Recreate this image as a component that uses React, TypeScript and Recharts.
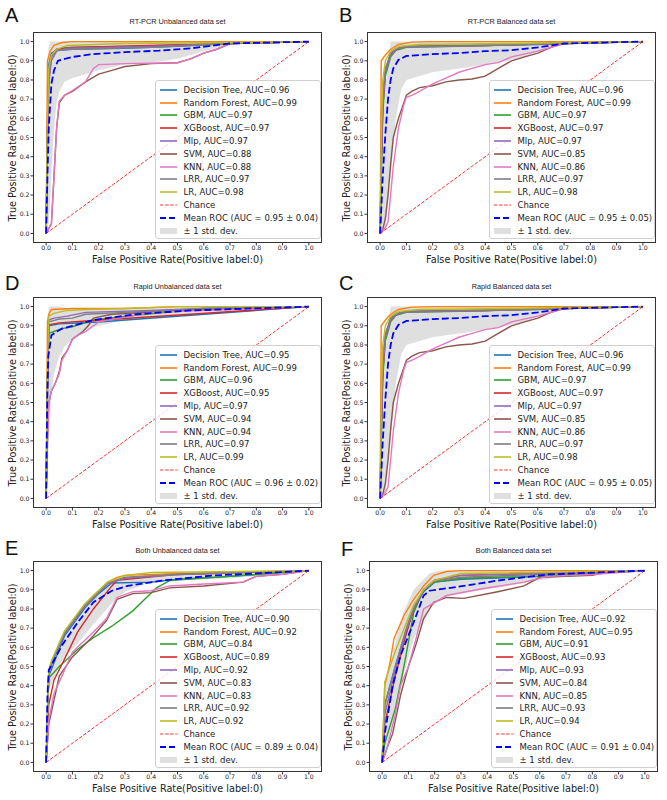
import React from "react";
import { ComposedChart, Line, Area, XAxis, YAxis } from "recharts";

type Pt = [number, number];
type Band = [number, number, number];

const TICKS = [0, 0.1, 0.2, 0.3, 0.4, 0.5, 0.6, 0.7, 0.8, 0.9, 1.0];
const MODELS = ["Decision Tree", "Random Forest", "GBM", "XGBoost", "Mlp", "SVM", "KNN", "LRR", "LR"];
const COLORS = ["#1f77b4", "#ff7f0e", "#2ca02c", "#d62728", "#9467bd", "#8c564b", "#e377c2", "#7f7f7f", "#bcbd22"];
const CHANCE: Pt[] = [[0, 0], [1, 1]];

// A: RT-PCR Unbalanced
const aAuc = [0.96, 0.99, 0.97, 0.97, 0.97, 0.88, 0.88, 0.97, 0.98];
const aDT: Pt[] = [[0, 0], [0.005, 0.6], [0.01, 0.88], [0.02, 0.94], [0.04, 0.955], [0.1, 0.96], [0.3, 0.965], [0.5, 0.975], [0.7, 0.99], [1, 1]];
const aRF: Pt[] = [[0, 0], [0.005, 0.9], [0.015, 0.95], [0.03, 0.98], [0.06, 0.995], [0.1, 1], [1, 1]];
const aGBM: Pt[] = [[0, 0], [0.005, 0.5], [0.01, 0.8], [0.02, 0.92], [0.04, 0.96], [0.08, 0.97], [0.3, 0.975], [0.6, 0.985], [0.7, 0.99], [1, 1]];
const aXGB: Pt[] = [[0, 0], [0.005, 0.55], [0.01, 0.82], [0.02, 0.93], [0.04, 0.96], [0.1, 0.97], [0.4, 0.98], [0.7, 0.99], [1, 1]];
const aMlp: Pt[] = [[0, 0], [0.005, 0.45], [0.01, 0.78], [0.02, 0.9], [0.04, 0.95], [0.08, 0.965], [0.4, 0.975], [0.7, 0.99], [1, 1]];
const aSVM: Pt[] = [[0, 0], [0.02, 0.05], [0.03, 0.3], [0.04, 0.55], [0.05, 0.68], [0.07, 0.72], [0.1, 0.74], [0.15, 0.79], [0.2, 0.83], [0.25, 0.85], [0.3, 0.87], [0.4, 0.885], [0.5, 0.89], [0.55, 0.91], [0.6, 0.94], [0.65, 0.96], [0.7, 0.99], [1, 1]];
const aKNN: Pt[] = [[0, 0], [0.02, 0.05], [0.03, 0.3], [0.04, 0.55], [0.05, 0.69], [0.07, 0.72], [0.1, 0.745], [0.15, 0.79], [0.18, 0.86], [0.2, 0.88], [0.3, 0.885], [0.5, 0.89], [0.55, 0.91], [0.6, 0.94], [0.65, 0.96], [0.7, 0.99], [1, 1]];
const aLRR: Pt[] = [[0, 0], [0.005, 0.5], [0.01, 0.82], [0.02, 0.92], [0.04, 0.955], [0.1, 0.96], [0.4, 0.97], [0.7, 0.99], [1, 1]];
const aLR: Pt[] = [[0, 0], [0.005, 0.6], [0.01, 0.86], [0.02, 0.93], [0.04, 0.96], [0.08, 0.98], [0.3, 0.99], [0.7, 0.995], [1, 1]];
const aMean: Pt[] = [[0, 0], [0.005, 0.3], [0.01, 0.55], [0.02, 0.78], [0.03, 0.85], [0.045, 0.9], [0.1, 0.92], [0.18, 0.935], [0.3, 0.945], [0.43, 0.953], [0.55, 0.965], [0.64, 0.98], [0.7, 0.99], [1, 1]];
const aBand: Band[] = [[0, 0, 0], [0.005, 0.02, 0.9], [0.01, 0.05, 0.97], [0.015, 0.15, 1], [0.02, 0.3, 1], [0.03, 0.55, 1], [0.04, 0.68, 1], [0.05, 0.74, 1], [0.07, 0.79, 1], [0.1, 0.81, 1], [0.15, 0.83, 1], [0.2, 0.85, 1], [0.3, 0.88, 1], [0.4, 0.89, 1], [0.5, 0.91, 1], [0.6, 0.95, 1], [0.7, 0.985, 1], [1, 1, 1]];

// B / C: RT-PCR Balanced, Rapid Balanced
const bAuc = [0.96, 0.99, 0.97, 0.97, 0.97, 0.85, 0.86, 0.97, 0.98];
const bDT: Pt[] = [[0, 0], [0.005, 0.4], [0.01, 0.7], [0.02, 0.85], [0.04, 0.93], [0.06, 0.96], [0.1, 0.975], [0.3, 0.98], [0.6, 0.985], [0.7, 0.99], [1, 1]];
const bRF: Pt[] = [[0, 0], [0.004, 0.9], [0.02, 0.93], [0.04, 0.96], [0.07, 0.985], [0.12, 0.997], [0.2, 1], [1, 1]];
const bGBM: Pt[] = [[0, 0], [0.005, 0.35], [0.01, 0.62], [0.02, 0.82], [0.04, 0.92], [0.06, 0.955], [0.1, 0.97], [0.3, 0.975], [0.7, 0.99], [1, 1]];
const bXGB: Pt[] = [[0, 0], [0.005, 0.4], [0.01, 0.66], [0.02, 0.85], [0.04, 0.935], [0.07, 0.965], [0.1, 0.975], [0.4, 0.98], [0.7, 0.99], [1, 1]];
const bMlp: Pt[] = [[0, 0], [0.005, 0.38], [0.01, 0.65], [0.02, 0.84], [0.04, 0.93], [0.07, 0.965], [0.1, 0.972], [0.4, 0.98], [0.7, 0.99], [1, 1]];
const bSVM: Pt[] = [[0, 0], [0.01, 0.02], [0.02, 0.08], [0.03, 0.2], [0.04, 0.36], [0.05, 0.5], [0.07, 0.6], [0.09, 0.68], [0.1, 0.72], [0.12, 0.74], [0.15, 0.76], [0.2, 0.77], [0.25, 0.79], [0.3, 0.8], [0.35, 0.805], [0.4, 0.82], [0.45, 0.86], [0.5, 0.9], [0.55, 0.92], [0.6, 0.94], [0.65, 0.97], [0.7, 0.99], [1, 1]];
const bKNN: Pt[] = [[0, 0], [0.02, 0.03], [0.03, 0.06], [0.04, 0.2], [0.05, 0.35], [0.07, 0.55], [0.09, 0.67], [0.1, 0.71], [0.12, 0.72], [0.15, 0.74], [0.2, 0.78], [0.25, 0.81], [0.3, 0.84], [0.35, 0.86], [0.4, 0.88], [0.45, 0.89], [0.5, 0.92], [0.6, 0.95], [0.7, 0.99], [1, 1]];
const bLRR: Pt[] = [[0, 0], [0.005, 0.45], [0.01, 0.72], [0.02, 0.86], [0.04, 0.94], [0.06, 0.96], [0.1, 0.975], [0.4, 0.98], [0.7, 0.99], [1, 1]];
const bLR: Pt[] = [[0, 0], [0.005, 0.55], [0.01, 0.8], [0.02, 0.9], [0.04, 0.95], [0.07, 0.975], [0.15, 0.985], [0.5, 0.99], [0.7, 0.995], [1, 1]];
const bMean: Pt[] = [[0, 0], [0.005, 0.15], [0.01, 0.3], [0.02, 0.52], [0.03, 0.7], [0.04, 0.8], [0.05, 0.86], [0.07, 0.905], [0.1, 0.925], [0.2, 0.935], [0.3, 0.94], [0.4, 0.95], [0.5, 0.955], [0.6, 0.97], [0.7, 0.99], [1, 1]];
const bBand: Band[] = [[0, 0, 0], [0.01, 0, 0.55], [0.02, 0.03, 0.75], [0.03, 0.15, 0.9], [0.04, 0.3, 1], [0.05, 0.45, 1], [0.06, 0.6, 1], [0.08, 0.75, 1], [0.1, 0.8, 1], [0.15, 0.82, 1], [0.2, 0.84, 1], [0.3, 0.86, 1], [0.45, 0.89, 1], [0.55, 0.92, 1], [0.6, 0.95, 1], [0.7, 0.99, 1], [1, 1, 1]];

// D: Rapid Unbalanced
const dAuc = [0.95, 0.99, 0.96, 0.95, 0.97, 0.94, 0.94, 0.97, 0.99];
const dDT: Pt[] = [[0, 0], [0.005, 0.6], [0.01, 0.9], [0.05, 0.91], [0.2, 0.92], [1, 1]];
const dRF: Pt[] = [[0, 0], [0.005, 0.92], [0.01, 0.96], [0.02, 0.985], [0.1, 0.99], [0.3, 0.99], [0.5, 1], [1, 1]];
const dGBM: Pt[] = [[0, 0], [0.005, 0.6], [0.01, 0.86], [0.03, 0.87], [0.06, 0.885], [0.1, 0.895], [0.18, 0.93], [0.34, 0.955], [0.6, 0.99], [1, 1]];
const dXGB: Pt[] = [[0, 0], [0.005, 0.6], [0.01, 0.905], [0.05, 0.915], [0.15, 0.925], [1, 1]];
const dMlp: Pt[] = [[0, 0], [0.005, 0.6], [0.01, 0.93], [0.03, 0.94], [0.08, 0.95], [0.15, 0.97], [0.4, 0.98], [0.6, 0.99], [1, 1]];
const dSVM: Pt[] = [[0, 0], [0.005, 0.3], [0.01, 0.5], [0.02, 0.56], [0.035, 0.6], [0.05, 0.66], [0.06, 0.73], [0.08, 0.77], [0.1, 0.83], [0.12, 0.85], [0.14, 0.87], [0.16, 0.9], [0.18, 0.94], [0.25, 0.96], [0.5, 0.98], [1, 1]];
const dKNN: Pt[] = [[0, 0], [0.005, 0.3], [0.01, 0.5], [0.02, 0.56], [0.035, 0.6], [0.05, 0.65], [0.06, 0.72], [0.08, 0.77], [0.1, 0.83], [0.12, 0.85], [0.15, 0.87], [0.18, 0.9], [0.2, 0.92], [0.4, 0.97], [1, 1]];
const dLRR: Pt[] = [[0, 0], [0.005, 0.6], [0.01, 0.92], [0.05, 0.935], [0.1, 0.94], [0.15, 0.96], [0.3, 0.97], [0.6, 0.99], [1, 1]];
const dLR: Pt[] = [[0, 0], [0.005, 0.7], [0.01, 0.95], [0.03, 0.965], [0.08, 0.98], [0.15, 0.985], [0.3, 0.99], [0.5, 1], [1, 1]];
const dMean: Pt[] = [[0, 0], [0.004, 0.5], [0.008, 0.74], [0.02, 0.85], [0.04, 0.87], [0.06, 0.885], [0.1, 0.9], [0.18, 0.93], [0.34, 0.96], [0.55, 0.98], [1, 1]];
const dBand: Band[] = [[0, 0, 0], [0.005, 0.1, 0.9], [0.01, 0.3, 1], [0.02, 0.55, 1], [0.03, 0.65, 1], [0.05, 0.74, 1], [0.07, 0.79, 0.995], [0.1, 0.83, 0.99], [0.15, 0.88, 0.99], [0.2, 0.9, 0.99], [0.3, 0.93, 0.99], [0.5, 0.95, 0.995], [0.7, 0.97, 1], [1, 1, 1]];

// E: Both Unbalanced
const eAuc = [0.9, 0.92, 0.84, 0.89, 0.92, 0.83, 0.83, 0.92, 0.92];
const eDT: Pt[] = [[0, 0], [0.01, 0.45], [0.03, 0.52], [0.07, 0.66], [0.15, 0.81], [0.2, 0.88], [0.25, 0.935], [0.4, 0.94], [0.5, 0.955], [0.7, 0.97], [1, 1]];
const eRF: Pt[] = [[0, 0], [0.01, 0.47], [0.02, 0.52], [0.07, 0.68], [0.146, 0.82], [0.184, 0.87], [0.234, 0.94], [0.27, 0.965], [0.3, 0.975], [0.5, 0.985], [1, 1]];
const eGBM: Pt[] = [[0, 0], [0.01, 0.44], [0.05, 0.5], [0.12, 0.59], [0.18, 0.65], [0.25, 0.71], [0.33, 0.79], [0.42, 0.91], [0.47, 0.948], [0.7, 0.97], [1, 1]];
const eXGB: Pt[] = [[0, 0], [0.01, 0.3], [0.03, 0.43], [0.058, 0.505], [0.12, 0.68], [0.18, 0.8], [0.25, 0.92], [0.27, 0.95], [0.5, 0.98], [1, 1]];
const eMlp: Pt[] = [[0, 0], [0.01, 0.45], [0.02, 0.51], [0.07, 0.67], [0.146, 0.81], [0.184, 0.865], [0.234, 0.93], [0.3, 0.96], [0.5, 0.98], [1, 1]];
const eSVM: Pt[] = [[0, 0], [0.01, 0.2], [0.05, 0.45], [0.1, 0.55], [0.18, 0.66], [0.23, 0.74], [0.27, 0.85], [0.33, 0.88], [0.4, 0.885], [0.47, 0.91], [0.6, 0.92], [0.75, 0.94], [0.8, 0.97], [0.9, 0.98], [1, 1]];
const eKNN: Pt[] = [[0, 0], [0.01, 0.22], [0.03, 0.36], [0.06, 0.45], [0.1, 0.575], [0.18, 0.68], [0.23, 0.75], [0.27, 0.86], [0.33, 0.89], [0.4, 0.895], [0.47, 0.92], [0.6, 0.93], [0.75, 0.94], [0.8, 0.97], [0.9, 0.98], [1, 1]];
const eLRR: Pt[] = [[0, 0], [0.01, 0.47], [0.02, 0.52], [0.07, 0.675], [0.146, 0.815], [0.184, 0.865], [0.234, 0.935], [0.3, 0.965], [0.5, 0.98], [1, 1]];
const eLR: Pt[] = [[0, 0], [0.01, 0.48], [0.02, 0.53], [0.07, 0.685], [0.146, 0.825], [0.184, 0.875], [0.234, 0.94], [0.3, 0.975], [0.4, 0.99], [1, 1]];
const eMean: Pt[] = [[0, 0], [0.005, 0.35], [0.01, 0.48], [0.06, 0.61], [0.12, 0.73], [0.18, 0.835], [0.25, 0.895], [0.31, 0.92], [0.44, 0.948], [0.63, 0.974], [0.8, 0.985], [1, 1]];
const eBand: Band[] = [[0, 0, 0], [0.01, 0.38, 0.5], [0.06, 0.53, 0.66], [0.12, 0.62, 0.78], [0.18, 0.72, 0.88], [0.25, 0.83, 0.94], [0.3, 0.89, 0.965], [0.38, 0.93, 0.975], [0.5, 0.95, 0.98], [0.7, 0.96, 0.99], [0.9, 0.98, 0.995], [1, 1, 1]];

// F: Both Balanced
const fAuc = [0.92, 0.95, 0.91, 0.93, 0.93, 0.84, 0.85, 0.93, 0.94];
const fDT: Pt[] = [[0, 0], [0.01, 0.3], [0.05, 0.5], [0.09, 0.68], [0.12, 0.8], [0.158, 0.89], [0.2, 0.94], [0.3, 0.955], [0.6, 0.97], [1, 1]];
const fRF: Pt[] = [[0, 0], [0.01, 0.4], [0.03, 0.52], [0.045, 0.645], [0.083, 0.766], [0.12, 0.85], [0.158, 0.92], [0.196, 0.975], [0.245, 0.995], [0.3, 1], [1, 1]];
const fGBM: Pt[] = [[0, 0], [0.01, 0.1], [0.05, 0.28], [0.083, 0.5], [0.12, 0.78], [0.158, 0.9], [0.2, 0.94], [0.3, 0.96], [0.6, 0.97], [1, 1]];
const fXGB: Pt[] = [[0, 0], [0.01, 0.2], [0.05, 0.45], [0.09, 0.66], [0.12, 0.8], [0.158, 0.9], [0.2, 0.95], [0.3, 0.975], [1, 1]];
const fMlp: Pt[] = [[0, 0], [0.01, 0.25], [0.05, 0.48], [0.09, 0.68], [0.12, 0.8], [0.158, 0.9], [0.2, 0.95], [0.3, 0.975], [1, 1]];
const fSVM: Pt[] = [[0, 0], [0.02, 0.08], [0.04, 0.15], [0.07, 0.35], [0.1, 0.5], [0.13, 0.62], [0.158, 0.75], [0.196, 0.835], [0.245, 0.86], [0.31, 0.855], [0.44, 0.89], [0.54, 0.92], [0.6, 0.965], [0.8, 0.975], [0.85, 0.99], [1, 1]];
const fKNN: Pt[] = [[0, 0], [0.02, 0.08], [0.05, 0.25], [0.07, 0.4], [0.1, 0.5], [0.13, 0.65], [0.158, 0.8], [0.245, 0.87], [0.38, 0.905], [0.54, 0.94], [0.63, 0.97], [0.8, 0.98], [1, 1]];
const fLRR: Pt[] = [[0, 0], [0.01, 0.3], [0.05, 0.5], [0.09, 0.69], [0.12, 0.81], [0.158, 0.9], [0.2, 0.945], [0.3, 0.965], [0.6, 0.98], [1, 1]];
const fLR: Pt[] = [[0, 0], [0.01, 0.42], [0.05, 0.58], [0.09, 0.72], [0.12, 0.82], [0.158, 0.9], [0.196, 0.948], [0.3, 0.985], [1, 1]];
const fMean: Pt[] = [[0, 0], [0.01, 0.15], [0.04, 0.4], [0.07, 0.557], [0.12, 0.73], [0.158, 0.87], [0.18, 0.895], [0.31, 0.92], [0.44, 0.948], [0.63, 0.98], [1, 1]];
const fBand: Band[] = [[0, 0, 0], [0.01, 0.05, 0.4], [0.05, 0.25, 0.62], [0.08, 0.45, 0.78], [0.12, 0.645, 0.9], [0.18, 0.8, 0.985], [0.22, 0.85, 1], [0.25, 0.87, 1], [0.44, 0.91, 1], [0.6, 0.95, 1], [0.7, 0.97, 1], [1, 1, 1]];

const DJ = "'DejaVu Sans', sans-serif";
const LIB = "'Liberation Sans', Arial, sans-serif";
const W = 333;
const H = 265;
const BOX = { left: 33, top: 32, width: 289, height: 211 };

const toXY = (pts: Pt[]) => pts.map(([x, y]) => ({ x, y }));
const toBand = (pts: Band[]) => pts.map(([x, lo, hi]) => ({ x, r: [lo, hi] }));
const fmt = (v: number) => v.toFixed(1);

interface PanelDef {
  letter: string;
  title: string;
  left: number;
  top: number;
  letterTop: number;
  curves: Pt[][];
  auc: number[];
  mean: Pt[];
  meanLabel: string;
  band: Band[];
}

const PANELS: PanelDef[] = [
  { letter: "A", title: "RT-PCR Unbalanced data set", left: 0, top: 0, letterTop: 4.5, curves: [aDT, aRF, aGBM, aXGB, aMlp, aSVM, aKNN, aLRR, aLR], auc: aAuc, mean: aMean, meanLabel: "0.95 ± 0.04", band: aBand },
  { letter: "B", title: "RT-PCR Balanced data set", left: 334, top: 0, letterTop: 4.5, curves: [bDT, bRF, bGBM, bXGB, bMlp, bSVM, bKNN, bLRR, bLR], auc: bAuc, mean: bMean, meanLabel: "0.95 ± 0.05", band: bBand },
  { letter: "D", title: "Rapid Unbalanced data set", left: 0, top: 265, letterTop: 7.5, curves: [dDT, dRF, dGBM, dXGB, dMlp, dSVM, dKNN, dLRR, dLR], auc: dAuc, mean: dMean, meanLabel: "0.96 ± 0.02", band: dBand },
  { letter: "C", title: "Rapid Balanced data set", left: 334, top: 265, letterTop: 7.5, curves: [bDT, bRF, bGBM, bXGB, bMlp, bSVM, bKNN, bLRR, bLR], auc: bAuc, mean: bMean, meanLabel: "0.95 ± 0.05", band: bBand },
  { letter: "E", title: "Both Unbalanced data set", left: 0, top: 529, letterTop: 8.5, curves: [eDT, eRF, eGBM, eXGB, eMlp, eSVM, eKNN, eLRR, eLR], auc: eAuc, mean: eMean, meanLabel: "0.89 ± 0.04", band: eBand },
  { letter: "F", title: "Both Balanced data set", left: 336, top: 529, letterTop: 10, curves: [fDT, fRF, fGBM, fXGB, fMlp, fSVM, fKNN, fLRR, fLR], auc: fAuc, mean: fMean, meanLabel: "0.91 ± 0.04", band: fBand },
];

const tickStyle = { fontSize: 6.2, fill: "#222", fontFamily: DJ };

function LegendBox({ p }: { p: PanelDef }) {
  const rows: { label: string; kind: "line" | "chance" | "mean" | "band"; color: string }[] = [
    ...MODELS.map((m, i) => ({ label: `${m}, AUC=${p.auc[i].toFixed(2)}`, kind: "line" as const, color: COLORS[i] })),
    { label: "Chance", kind: "chance", color: "#ff0000" },
    { label: `Mean ROC (AUC = ${p.meanLabel})`, kind: "mean", color: "#0000ff" },
    { label: "± 1 std. dev.", kind: "band", color: "#808080" },
  ];
  return (
    <div
      style={{
        position: "absolute",
        left: BOX.left + BOX.width - 167,
        top: BOX.top + BOX.height - 163,
        width: 166,
        height: 159,
        boxSizing: "border-box",
        border: "1px solid #d0d0d0",
        borderRadius: 3,
        background: "rgba(255,255,255,0.8)",
        paddingTop: 2.5,
      }}
    >
      {rows.map((r) => (
        <div key={r.label} style={{ display: "flex", alignItems: "center", height: 12.8 }}>
          <svg width={17} height={8} style={{ marginLeft: 3.5, flex: "none" }}>
            {r.kind === "band" ? (
              <rect x={0} y={1} width={17} height={6} fill="#808080" fillOpacity={0.25} />
            ) : (
              <line
                x1={0}
                y1={4}
                x2={17}
                y2={4}
                stroke={r.color}
                strokeOpacity={r.kind === "chance" ? 0.8 : 1}
                strokeWidth={r.kind === "mean" ? 1.8 : r.kind === "chance" ? 1.2 : 1.6}
                strokeDasharray={r.kind === "mean" ? "6 3" : r.kind === "chance" ? "3.5 1.6" : undefined}
              />
            )}
          </svg>
          <span style={{ marginLeft: 7, fontFamily: DJ, fontSize: 8.5, color: "#222", whiteSpace: "nowrap" }}>{r.label}</span>
        </div>
      ))}
    </div>
  );
}

function RocPanel({ p }: { p: PanelDef }) {
  return (
    <div style={{ position: "absolute", left: p.left, top: p.top, width: W, height: H }}>
      <ComposedChart width={W} height={H} margin={{ top: BOX.top, right: W - BOX.left - BOX.width, left: 0, bottom: 0 }}>
        <XAxis
          type="number"
          dataKey="x"
          domain={[-0.05, 1.05]}
          ticks={TICKS}
          interval={0}
          tickFormatter={fmt}
          height={H - BOX.top - BOX.height}
          tickSize={2.5}
          tickMargin={0.5}
          axisLine={false}
          tickLine={{ stroke: "#333" }}
          tick={tickStyle}
          allowDataOverflow
        />
        <YAxis
          type="number"
          domain={[-0.05, 1.05]}
          ticks={TICKS}
          interval={0}
          tickFormatter={fmt}
          width={BOX.left}
          tickSize={2.5}
          tickMargin={1}
          axisLine={false}
          tickLine={{ stroke: "#333" }}
          tick={tickStyle}
          allowDataOverflow
        />
        {p.curves.map((c, i) => (
          <Line
            key={MODELS[i]}
            data={toXY(c)}
            dataKey="y"
            type="linear"
            stroke={COLORS[i]}
            strokeWidth={1.4}
            dot={false}
            isAnimationActive={false}
          />
        ))}
        <Line
          data={toXY(CHANCE)}
          dataKey="y"
          type="linear"
          stroke="#ff0000"
          strokeOpacity={0.8}
          strokeWidth={1}
          strokeDasharray="3.5 1.6"
          dot={false}
          isAnimationActive={false}
        />
        <Line
          data={toXY(p.mean)}
          dataKey="y"
          type="linear"
          stroke="#0000ff"
          strokeWidth={1.8}
          strokeDasharray="7 3"
          dot={false}
          isAnimationActive={false}
        />
        <Area
          data={toBand(p.band)}
          dataKey="r"
          type="linear"
          fill="#808080"
          fillOpacity={0.25}
          stroke="none"
          isAnimationActive={false}
        />
      </ComposedChart>
      <div
        style={{
          position: "absolute",
          left: BOX.left,
          top: BOX.top,
          width: BOX.width,
          height: BOX.height,
          boxSizing: "border-box",
          border: "1px solid #333",
          pointerEvents: "none",
        }}
      />
      <div style={{ position: "absolute", left: 5, top: p.letterTop, fontFamily: LIB, fontSize: 20, lineHeight: "20px", color: "#111" }}>
        {p.letter}
      </div>
      <div
        style={{
          position: "absolute",
          left: BOX.left,
          width: BOX.width,
          top: BOX.top - 15,
          textAlign: "center",
          fontFamily: LIB,
          fontSize: 7.3,
          lineHeight: "10px",
          color: "#222",
        }}
      >
        {p.title}
      </div>
      <div
        style={{
          position: "absolute",
          left: BOX.left,
          width: BOX.width,
          top: 254,
          textAlign: "center",
          fontFamily: DJ,
          fontSize: 9.7,
          lineHeight: "12px",
          color: "#222",
          whiteSpace: "nowrap",
        }}
      >
        False Positive Rate(Positive label:0)
      </div>
      <div
        style={{
          position: "absolute",
          left: 12.7 - 100,
          top: BOX.top + BOX.height / 2 - 6,
          width: 200,
          textAlign: "center",
          fontFamily: DJ,
          fontSize: 9.7,
          lineHeight: "12px",
          color: "#222",
          whiteSpace: "nowrap",
          transform: "rotate(-90deg)",
        }}
      >
        True Positive Rate(Positive label:0)
      </div>
      <LegendBox p={p} />
    </div>
  );
}

export default function App() {
  return (
    <div style={{ position: "absolute", left: 0, top: 0, width: 667, height: 800, background: "#fff" }}>
      {PANELS.map((p) => (
        <RocPanel key={p.letter} p={p} />
      ))}
    </div>
  );
}
